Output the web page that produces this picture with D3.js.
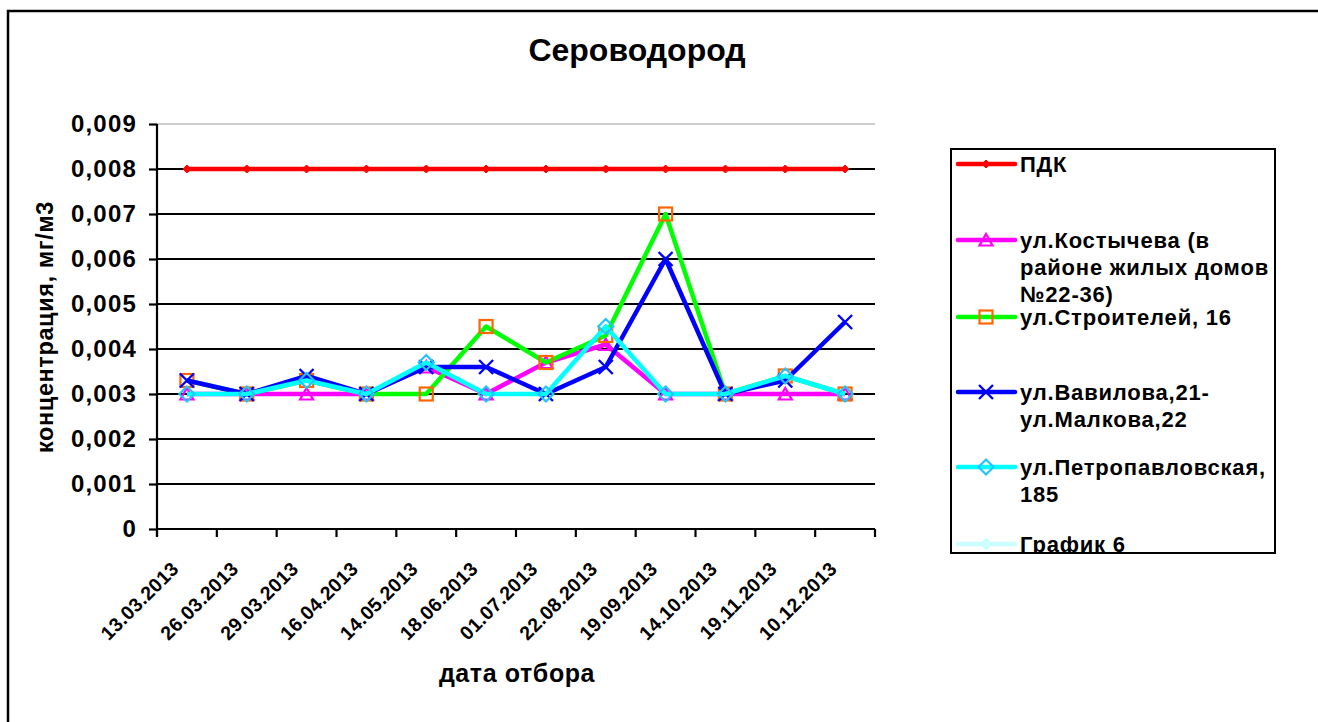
<!DOCTYPE html>
<html><head><meta charset="utf-8">
<script src="https://cdn.jsdelivr.net/npm/d3@7"></script>
<style>
html,body{margin:0;padding:0;background:#fff;}
text{font-family:Arial,"Liberation Sans",sans-serif;font-weight:bold;fill:#000;}
</style></head>
<body>
<svg id="chart" width="1318" height="722"></svg>
<script>
const title = "Сероводород";
const yTitle = "концентрация, мг/м3";
const xTitle = "дата отбора";
const categories = ["13.03.2013","26.03.2013","29.03.2013","16.04.2013","14.05.2013","18.06.2013","01.07.2013","22.08.2013","19.09.2013","14.10.2013","19.11.2013","10.12.2013"];
const yTicks = [0,0.001,0.002,0.003,0.004,0.005,0.006,0.007,0.008,0.009];
const seriesNames = ["ПДК","ул.Костычева (в районе жилых домов №22-36)","ул.Строителей, 16","ул.Вавилова,21-ул.Малкова,22","ул.Петропавловская, 185","График 6"];
const legendLines = [["ПДК"],["ул.Костычева (в","районе жилых домов","№22-36)"],["ул.Строителей, 16"],["ул.Вавилова,21-","ул.Малкова,22"],["ул.Петропавловская,","185"],["График 6"]];
const pdk =            [0.008,0.008,0.008,0.008,0.008,0.008,0.008,0.008,0.008,0.008,0.008,0.008];
const kostycheva =     [0.003,0.003,0.003,0.003,0.0036,0.003,0.0037,0.0041,0.003,0.003,0.003,0.003];
const stroiteley =     [0.0033,0.003,0.0033,0.003,0.003,0.0045,0.0037,0.0043,0.007,0.003,0.0034,0.003];
const vavilova =       [0.0033,0.003,0.0034,0.003,0.0036,0.0036,0.003,0.0036,0.006,0.003,0.0033,0.0046];
const petropavlovskaya=[0.003,0.003,0.0033,0.003,0.0037,0.003,0.003,0.0045,0.003,0.003,0.0034,0.003];
const grafik6 = [];

const seriesValues = [pdk,kostycheva,stroiteley,vavilova,petropavlovskaya,grafik6];
const styles = [
  {line:"#FF0000", marker:"diamondSmall", mstroke:"#FF0000", mfill:"#FF0000"},
  {line:"#FF00FF", marker:"triangle", mstroke:"#FF00FF", mfill:"#fff"},
  {line:"#00FF00", marker:"square", mstroke:"#FF6600", mfill:"none"},
  {line:"#0000FF", marker:"x", mstroke:"#0000FF", mfill:"none"},
  {line:"#00FFFF", marker:"diamond", mstroke:"#22C4FF", mfill:"none"},
  {line:"#CCFFFF", marker:"diamondFilled", mstroke:"#CCFFFF", mfill:"#CCFFFF"}
];

const svg = d3.select("#chart");
svg.append("rect").attr("x",8).attr("y",11).attr("width",1330).attr("height",730)
  .attr("fill","none").attr("stroke","#000").attr("stroke-width",2.5);

const L=157, R=875, T=124, B=529;
const x = d3.scaleBand().domain(categories).range([L,R]).padding(0);
const y = d3.scaleLinear().domain([0,0.009]).range([B,T]);
const cx = c => x(c)+x.bandwidth()/2;

svg.append("text").attr("x",637).attr("y",61).attr("text-anchor","middle")
  .style("font-size","32px").text(title);

svg.append("g").selectAll("line").data(yTicks.filter(d=>d>0)).join("line")
  .attr("x1",L).attr("x2",R).attr("y1",d=>y(d)).attr("y2",d=>y(d))
  .attr("stroke",d=>d===0.009?"#bbb":"#000").attr("stroke-width",d=>d===0.009?1.5:2.2);

const yAxis = d3.axisLeft(y).tickValues(yTicks).tickSize(8).tickPadding(12)
  .tickFormat(d=> d===0 ? "0" : d3.format(".3f")(d).replace(".",","));
const gy = svg.append("g").attr("transform",`translate(${L},0)`).call(yAxis);
gy.select(".domain").attr("stroke","#000").attr("stroke-width",2.2).attr("d",`M0,${T}V${B+7}`);
gy.selectAll(".tick line").attr("stroke","#000").attr("stroke-width",2.2);
gy.selectAll(".tick text").style("font-size","24px").style("letter-spacing","1.2px")
  .attr("font-family",null).attr("fill","#000");

const xAxis = d3.axisBottom(x).tickSize(0).tickFormat("");
const gx = svg.append("g").attr("transform",`translate(0,${B})`).call(xAxis);
gx.select(".domain").attr("stroke","#000").attr("stroke-width",2.2).attr("d",`M${L},0H${R}`);
const bounds = categories.map(c=>x(c)).concat([R]);
gx.selectAll("line.b").data(bounds).join("line").attr("class","b")
  .attr("x1",d=>d).attr("x2",d=>d).attr("y1",0).attr("y2",8)
  .attr("stroke","#000").attr("stroke-width",2.2);
svg.append("g").selectAll("text").data(categories).join("text")
  .attr("transform",d=>`translate(${cx(d)-7},${570}) rotate(-45)`)
  .attr("text-anchor","end").style("font-size","19.5px").style("letter-spacing","0.3px")
  .text(d=>d);

svg.append("text").attr("transform",`translate(53,327) rotate(-90)`)
  .attr("text-anchor","middle").style("font-size","23.5px").style("letter-spacing","0.6px").text(yTitle);
svg.append("text").attr("x",517).attr("y",682).attr("text-anchor","middle")
  .style("font-size","25px").style("letter-spacing","0.6px").text(xTitle);

function drawMarker(g, type, px, py, st){
  if(type==="diamondSmall"){
    g.append("path").attr("d",`M${px},${py-4}L${px+4},${py}L${px},${py+4}L${px-4},${py}Z`)
      .attr("fill",st.mfill).attr("stroke",st.mstroke).attr("stroke-width",1);
  } else if(type==="diamondFilled"){
    g.append("path").attr("d",`M${px},${py-6}L${px+6},${py}L${px},${py+6}L${px-6},${py}Z`)
      .attr("fill",st.mfill).attr("stroke",st.mstroke).attr("stroke-width",1);
  } else if(type==="triangle"){
    g.append("path").attr("d",`M${px},${py-6}L${px+6.5},${py+5.5}L${px-6.5},${py+5.5}Z`)
      .attr("fill","none").attr("stroke",st.mstroke).attr("stroke-width",2.2);
  } else if(type==="square"){
    g.append("rect").attr("x",px-6.5).attr("y",py-6.5).attr("width",13).attr("height",13)
      .attr("fill","none").attr("stroke",st.mstroke).attr("stroke-width",2.2);
  } else if(type==="x"){
    g.append("path").attr("d",`M${px-7},${py-7}L${px+7},${py+7}M${px+7},${py-7}L${px-7},${py+7}`)
      .attr("stroke",st.mstroke).attr("stroke-width",2.4);
  } else if(type==="diamond"){
    g.append("path").attr("d",`M${px},${py-7.5}L${px+7.5},${py}L${px},${py+7.5}L${px-7.5},${py}Z`)
      .attr("fill","none").attr("stroke",st.mstroke).attr("stroke-width",2.2);
  }
}

const line = d3.line().x((d,i)=>cx(categories[i])).y(d=>y(d));
seriesValues.forEach((vals,si)=>{
  if(!vals.length) return;
  const st = styles[si];
  const g = svg.append("g");
  g.append("path").datum(vals).attr("d",line).attr("fill","none")
    .attr("stroke",st.line).attr("stroke-width",4.5).attr("stroke-linejoin","round");
  vals.forEach((v,i)=>drawMarker(g, st.marker, cx(categories[i]), y(v), st));
});

const LX=951, LY=149, LW=324, LH=404;
const defs = svg.append("defs");
defs.append("clipPath").attr("id","lc").append("rect").attr("x",LX).attr("y",LY).attr("width",LW).attr("height",LH);
const lg = svg.append("g");
lg.append("rect").attr("x",LX).attr("y",LY).attr("width",LW).attr("height",LH)
  .attr("fill","#fff").attr("stroke","none");
const lgc = lg.append("g").attr("clip-path","url(#lc)");
const legendY = [164,240,317,392,467,544];
seriesNames.forEach((name,si)=>{
  const st = styles[si];
  const yy = legendY[si];
  lgc.append("line").attr("x1",958).attr("x2",1015).attr("y1",yy).attr("y2",yy)
    .attr("stroke",st.line).attr("stroke-width",4.5).attr("stroke-linecap","round");
  drawMarker(lgc, st.marker, 986, yy, st);
  const t = lgc.append("text").attr("x",1020).attr("y",yy+8).style("font-size","22px").style("letter-spacing","0.8px");
  legendLines[si].forEach((ln,li)=>{
    t.append("tspan").attr("x",1020).attr("dy",li===0?0:27).text(ln);
  });
});
lg.append("rect").attr("x",LX).attr("y",LY).attr("width",LW).attr("height",LH)
  .attr("fill","none").attr("stroke","#000").attr("stroke-width",2);
</script>
</body></html>
